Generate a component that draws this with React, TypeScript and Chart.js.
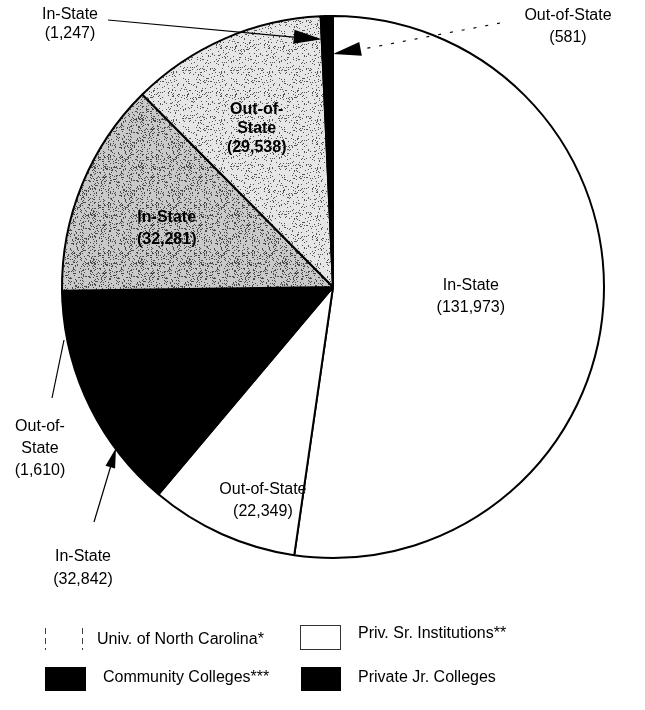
import React, { useEffect, useRef } from "react";
import { Chart, registerables } from "chart.js";
Chart.register(...registerables);

// ---- data ----
const categories = [
  "Priv. Sr. Institutions In-State",
  "Priv. Sr. Institutions Out-of-State",
  "Community Colleges In-State",
  "Community Colleges Out-of-State",
  "Univ. of North Carolina In-State",
  "Univ. of North Carolina Out-of-State",
  "Private Jr. Colleges In-State",
  "Private Jr. Colleges Out-of-State",
];
const residency = ["In-State", "Out-of-State", "In-State", "Out-of-State", "In-State", "Out-of-State", "In-State", "Out-of-State"];
const values = [131973, 22349, 32842, 1610, 32281, 29538, 1247, 581];
const valueLabels = ["(131,973)", "(22,349)", "(32,842)", "(1,610)", "(32,281)", "(29,538)", "(1,247)", "(581)"];
const legendLabels = ["Univ. of North Carolina*", "Priv. Sr. Institutions**", "Community Colleges***", "Private Jr. Colleges"];

const FONT = '"Liberation Sans", Arial, Helvetica, sans-serif';

function stipple(bg: string, dot: string, density: number, seed: number): CanvasPattern | string {
  const c = document.createElement("canvas");
  c.width = 48;
  c.height = 48;
  const g = c.getContext("2d");
  if (!g) return bg;
  g.fillStyle = bg;
  g.fillRect(0, 0, 48, 48);
  g.fillStyle = dot;
  let s = seed;
  for (let y = 0; y < 48; y++) {
    for (let x = 0; x < 48; x++) {
      s = (s * 1103515245 + 12345) & 0x7fffffff;
      if ((s % 1000) / 1000 < density) g.fillRect(x, y, 1, 1);
    }
  }
  const p = g.createPattern(c, "repeat");
  return p || bg;
}

function arrowHead(ctx: CanvasRenderingContext2D, fx: number, fy: number, tx: number, ty: number, len: number, half: number) {
  const a = Math.atan2(ty - fy, tx - fx);
  ctx.beginPath();
  ctx.moveTo(tx, ty);
  ctx.lineTo(tx - len * Math.cos(a) + half * Math.sin(a), ty - len * Math.sin(a) - half * Math.cos(a));
  ctx.lineTo(tx - len * Math.cos(a) - half * Math.sin(a), ty - len * Math.sin(a) + half * Math.cos(a));
  ctx.closePath();
  ctx.fill();
}

function lines(ctx: CanvasRenderingContext2D, txt: string[], x: number, y: number, lh: number) {
  txt.forEach((t, i) => ctx.fillText(t, x, y + i * lh));
}

const labelPlugin = {
  id: "labels",
  afterDraw(chart: any) {
    const ctx: CanvasRenderingContext2D = chart.ctx;
    const meta = chart.getDatasetMeta(0);
    const arcs = meta.data.map((el: any) => el.getProps(["x", "y", "startAngle", "endAngle", "outerRadius"], true));
    const at = (i: number, f: number, dAng = 0, which: "mid" | "start" | "end" = "mid") => {
      const a = arcs[i];
      const ang = (which === "mid" ? (a.startAngle + a.endAngle) / 2 : which === "start" ? a.startAngle : a.endAngle) + (dAng * Math.PI) / 180;
      return { x: a.x + Math.cos(ang) * a.outerRadius * f, y: a.y + Math.sin(ang) * a.outerRadius * f };
    };
    ctx.save();
    ctx.fillStyle = "#000";
    ctx.strokeStyle = "#000";
    ctx.textAlign = "center";
    ctx.textBaseline = "middle";
    ctx.font = `16px ${FONT}`;

    // inside labels
    let p = at(0, 0.51);
    lines(ctx, [residency[0], valueLabels[0]], p.x, p.y - 11, 22);
    p = at(1, 0.83, -6);
    lines(ctx, [residency[1], valueLabels[1]], p.x, p.y - 11, 22);

    ctx.font = `bold 16px ${FONT}`;
    p = at(4, 0.65, -3);
    lines(ctx, [residency[4], valueLabels[4]], p.x, p.y - 11, 22);
    p = at(5, 0.65, -2);
    lines(ctx, ["Out-of-", "State", valueLabels[5]], p.x, p.y - 19, 19);

    // outside labels
    ctx.font = `16px ${FONT}`;
    // In-State (1,247)
    lines(ctx, [residency[6], valueLabels[6]], 70, 15, 19);
    let tip = at(6, 0.915, 0, "start");
    ctx.lineWidth = 1.2;
    ctx.beginPath();
    ctx.moveTo(108, 20);
    ctx.lineTo(tip.x - 20, tip.y - 1.5);
    ctx.stroke();
    arrowHead(ctx, 108, 20, tip.x, tip.y, 28, 7);

    // Out-of-State (581)
    lines(ctx, [residency[7], valueLabels[7]], 568, 16, 22);
    tip = at(7, 0.86, 0, "end");
    ctx.setLineDash([3, 9]);
    ctx.beginPath();
    ctx.moveTo(500, 23);
    ctx.lineTo(tip.x + 20, tip.y - 3);
    ctx.stroke();
    ctx.setLineDash([]);
    arrowHead(ctx, 500, 23, tip.x, tip.y, 28, 7);

    // Out-of-State (1,610)
    lines(ctx, ["Out-of-", "State", valueLabels[3]], 40, 427, 22);
    ctx.beginPath();
    ctx.moveTo(52, 398);
    ctx.lineTo(64, 340);
    ctx.stroke();

    // In-State (32,842)
    lines(ctx, [residency[2], valueLabels[2]], 83, 557, 23);
    ctx.beginPath();
    ctx.moveTo(94, 522);
    ctx.lineTo(112, 462);
    ctx.stroke();
    arrowHead(ctx, 94, 522, 116, 448, 20, 5);

    // legend
    ctx.textAlign = "left";
    ctx.font = `16px ${FONT}`;
    // UNC box
    ctx.strokeStyle = "#444";
    ctx.lineWidth = 1;
    ctx.setLineDash([6, 4]);
    ctx.beginPath();
    ctx.moveTo(45.5, 628);
    ctx.lineTo(45.5, 650);
    ctx.moveTo(82.5, 628);
    ctx.lineTo(82.5, 650);
    ctx.stroke();
    ctx.setLineDash([]);
    ctx.fillText(legendLabels[0], 97, 640);
    // Priv Sr box
    ctx.strokeStyle = "#333";
    ctx.strokeRect(300.5, 625.5, 40, 24);
    ctx.fillText(legendLabels[1], 358, 634);
    // Community colleges box
    ctx.fillStyle = "#000";
    ctx.fillRect(45, 667, 41, 24);
    ctx.fillText(legendLabels[2], 103, 678);
    ctx.fillRect(301, 667, 40, 24);
    ctx.fillText(legendLabels[3], 358, 678);
    ctx.restore();
  },
};

export default function App() {
  const ref = useRef<HTMLCanvasElement>(null);
  useEffect(() => {
    if (!ref.current) return;
    const uncIn = stipple("#c9c9c9", "#4a4a4a", 0.2, 7);
    const uncOut = stipple("#e6e6e6", "#555555", 0.1, 13);
    const colors = ["#ffffff", "#ffffff", "#000000", "#000000", uncIn, uncOut, "#000000", "#000000"];
    const chart = new Chart(ref.current, {
      type: "pie",
      data: {
        labels: categories,
        datasets: [
          {
            data: values,
            backgroundColor: colors as any,
            borderColor: "#000",
            borderWidth: 2,
          },
        ],
      },
      options: {
        responsive: false,
        animation: false,
        layout: { padding: { left: 61, right: 40, top: 15, bottom: 151 } },
        plugins: { legend: { display: false }, tooltip: { enabled: false } },
      },
      plugins: [labelPlugin],
    });
    return () => chart.destroy();
  }, []);
  return (
    <div style={{ position: "absolute", left: 0, top: 0, width: 645, height: 710, background: "#fff" }}>
      <canvas ref={ref} width={645} height={710} style={{ width: 645, height: 710, display: "block" }} />
    </div>
  );
}
